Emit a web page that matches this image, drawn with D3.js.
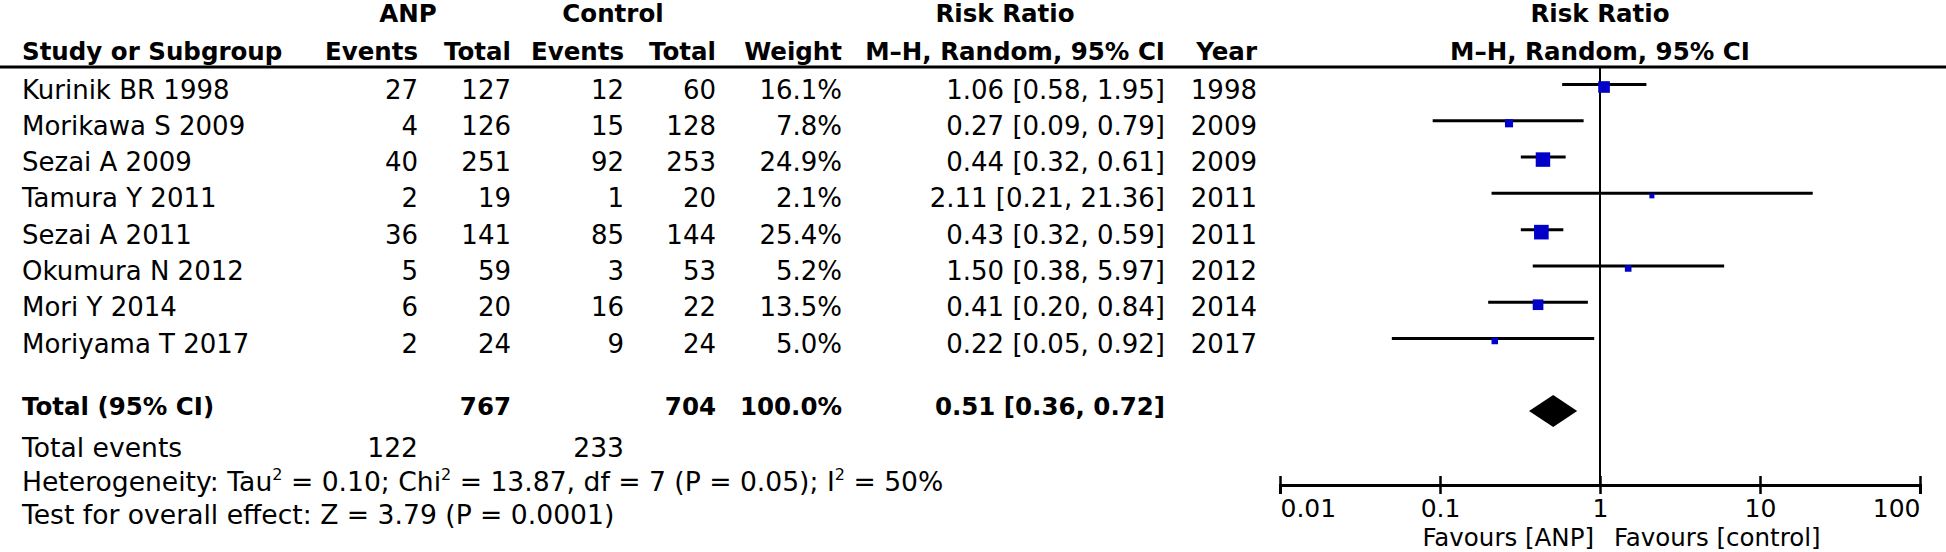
<!DOCTYPE html>
<html><head><meta charset="utf-8">
<script src="https://cdn.jsdelivr.net/npm/d3@7"></script>
<style>html,body{margin:0;padding:0;background:#fff;} svg{display:block;font-family:"DejaVu Sans",sans-serif;}</style>
</head><body><div id="chart"></div>
<script>
// ---- data ----
const studies = ["Kurinik BR 1998","Morikawa S 2009","Sezai A 2009","Tamura Y 2011","Sezai A 2011","Okumura N 2012","Mori Y 2014","Moriyama T 2017"];
const anpEvents = [27,4,40,2,36,5,6,2];
const anpTotal = [127,126,251,19,141,59,20,24];
const ctrlEvents = [12,15,92,1,85,3,16,9];
const ctrlTotal = [60,128,253,20,144,53,22,24];
const weights = [16.1,7.8,24.9,2.1,25.4,5.2,13.5,5.0];
const rr = [1.06,0.27,0.44,2.11,0.43,1.50,0.41,0.22];
const rrLow = [0.58,0.09,0.32,0.21,0.32,0.38,0.20,0.05];
const rrHigh = [1.95,0.79,0.61,21.36,0.59,5.97,0.84,0.92];
const years = [1998,2009,2009,2011,2011,2012,2014,2017];
const totalAnp = 767, totalCtrl = 704, totalWeight = 100.0;
const pooled = [0.51,0.36,0.72];
const eventsAnp = 122, eventsCtrl = 233;
const axisTicks = [0.01,0.1,1,10,100];
const axisLabels = ["0.01","0.1","1","10","100"];

// ---- chart ----
const W = 1946, H = 552;
const svg = d3.select("#chart").append("svg").attr("width", W).attr("height", H);
const x = d3.scaleLog().domain([0.01,100]).range([1280,1920]);
const y = d3.scalePoint().domain(d3.range(studies.length)).range([84.5,338.5]);
const fmt2 = d3.format(".2f");
const ci = (e,l,h) => `${fmt2(e)} [${fmt2(l)}, ${fmt2(h)}]`;

const REG = 26, BOLD = 24.5, FOOT = 26.6;
function txt(xp, yp, s, anchor, bold, size){
  return svg.append("text").attr("x", xp).attr("y", yp).attr("text-anchor", anchor||"start")
    .attr("font-size", size || (bold ? BOLD : REG)).attr("font-weight", bold ? "bold" : "normal")
    .attr("fill","#000").text(s);
}

// headers
txt(408, 22, "ANP", "middle", true);
txt(613, 22, "Control", "middle", true);
txt(1005, 22, "Risk Ratio", "middle", true);
txt(x(1), 22, "Risk Ratio", "middle", true);
txt(22, 60, "Study or Subgroup", "start", true);
txt(418, 60, "Events", "end", true);
txt(511, 60, "Total", "end", true);
txt(624, 60, "Events", "end", true);
txt(716, 60, "Total", "end", true);
txt(842, 60, "Weight", "end", true);
txt(1165, 60, "M\u2013H, Random, 95% CI", "end", true);
txt(1257, 60, "Year", "end", true);
txt(x(1), 60, "M\u2013H, Random, 95% CI", "middle", true);

svg.append("line").attr("x1",0).attr("x2",W).attr("y1",67).attr("y2",67)
  .attr("stroke","#000").attr("stroke-width",3);

// rows
const cols = [
  {x:22, a:"start", v:i=>studies[i]},
  {x:418, a:"end", v:i=>anpEvents[i]},
  {x:511, a:"end", v:i=>anpTotal[i]},
  {x:624, a:"end", v:i=>ctrlEvents[i]},
  {x:716, a:"end", v:i=>ctrlTotal[i]},
  {x:842, a:"end", v:i=>d3.format(".1f")(weights[i])+"%"},
  {x:1165, a:"end", v:i=>ci(rr[i],rrLow[i],rrHigh[i])},
  {x:1257, a:"end", v:i=>years[i]}
];
cols.forEach(c=>{
  svg.append("g").selectAll("text").data(d3.range(studies.length)).join("text")
    .attr("x", c.x).attr("y", i=>y(i)+14).attr("text-anchor", c.a)
    .attr("font-size", REG).attr("fill","#000").text(c.v);
});

// vertical line at 1
svg.append("line").attr("x1",x(1)).attr("x2",x(1)).attr("y1",67).attr("y2",485)
  .attr("stroke","#000").attr("stroke-width",2);

// CI lines and squares
const plot = svg.append("g");
plot.selectAll("line.ci").data(d3.range(studies.length)).join("line").attr("class","ci")
  .attr("x1", i=>x(Math.max(rrLow[i],0.01))).attr("x2", i=>x(Math.min(rrHigh[i],100)))
  .attr("y1", i=>y(i)).attr("y2", i=>y(i)).attr("stroke","#000").attr("stroke-width",3);
const side = w => Math.max(5, 2.9*Math.sqrt(w));
plot.selectAll("rect").data(d3.range(studies.length)).join("rect")
  .attr("x", i=>x(rr[i]) - side(weights[i])/2).attr("y", i=>y(i)+2.5 - side(weights[i])/2)
  .attr("width", i=>side(weights[i])).attr("height", i=>side(weights[i]))
  .attr("fill","#0000c8");

// total row
const ty = 415;
txt(22, ty, "Total (95% CI)", "start", true);
txt(511, ty, totalAnp, "end", true);
txt(716, ty, totalCtrl, "end", true);
txt(842, ty, d3.format(".1f")(totalWeight)+"%", "end", true);
txt(1165, ty, ci(pooled[0],pooled[1],pooled[2]), "end", true);
const dy0 = 411, dh = 16;
svg.append("path").attr("d", d3.line()([[x(pooled[1]),dy0],[x(pooled[0]),dy0-dh],[x(pooled[2]),dy0],[x(pooled[0]),dy0+dh]]) + "Z")
  .attr("fill","#000");

// footer
txt(22, 457, "Total events", "start", false, FOOT);
txt(418, 457, eventsAnp, "end", false, FOOT);
txt(624, 457, eventsCtrl, "end", false, FOOT);
function supText(xp, yp, parts){
  const t = svg.append("text").attr("x", xp).attr("y", yp).attr("font-size", FOOT).attr("fill","#000");
  parts.forEach(p=>{
    if (p.sup) t.append("tspan").attr("font-size",16).attr("dy",-11).text(p.s);
    else t.append("tspan").attr("dy", p.back ? 11 : 0).text(p.s);
  });
}
supText(22, 491, [{s:"Heterogeneity: Tau"},{s:"2",sup:true},{s:" = 0.10; Chi",back:true},{s:"2",sup:true},{s:" = 13.87, df = 7 (P = 0.05); I",back:true},{s:"2",sup:true},{s:" = 50%",back:true}]);
txt(22, 524, "Test for overall effect: Z = 3.79 (P = 0.0001)", "start", false, FOOT);

// axis
const axis = d3.axisBottom(x).tickValues(axisTicks).tickFormat((d,i)=>axisLabels[i]).tickSizeOuter(0).tickSize(9);
const g = svg.append("g").attr("transform","translate(0,485)").call(axis)
  .attr("font-family",null).attr("font-size",null);
g.select(".domain").attr("stroke","#000").attr("stroke-width",3);
g.selectAll(".tick line").attr("y1",-9).attr("y2",9).attr("stroke","#000").attr("stroke-width",2.5);
g.selectAll(".tick text").attr("y",32).attr("dy",null).attr("font-size",25).attr("fill","#000")
  .attr("text-anchor",(d,i)=> i===0 ? "start" : (i===axisTicks.length-1 ? "end" : "middle"));
txt(x(1)-6, 546, "Favours [ANP]", "end", false, 24.5);
txt(x(1)+14, 546, "Favours [control]", "start", false, 24.5);
</script></body></html>
